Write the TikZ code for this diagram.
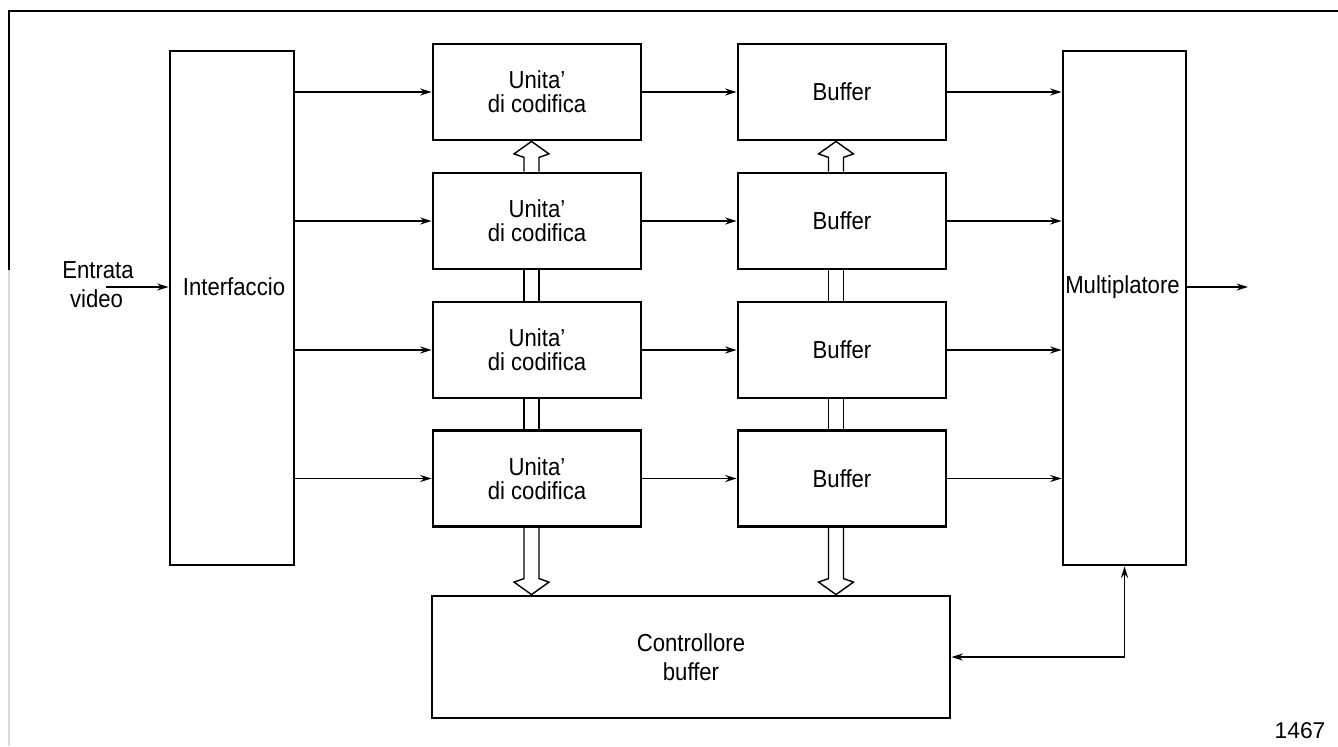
\documentclass[tikz,border=0pt]{standalone}
\usepackage{fontspec}
\setmainfont{Liberation Sans}[FakeStretch=0.9]
\newfontfamily\plainsans{Liberation Sans}
\usetikzlibrary{calc,arrows.meta}
\tikzset{
  blk/.style={draw,line width=1.6pt,minimum width=4.16cm,minimum height=1.92cm,
    inner sep=0pt,align=center,font=\fontsize{14}{13.8}\selectfont},
  lbl/.style={font=\fontsize{14}{15.3}\selectfont,align=center},
  conn/.style={line width=0.8pt,-{Stealth[length=6.5pt,width=4pt]}},
  bus/.style={line width=0.8pt,line join=miter}
}
% hollow bus arrow: #1 tail, #2 tip, #3 = 1 pointing down, -1 pointing up
\newcommand{\busarrow}[3]{%
  \draw[bus] ($#1+(-0.15,0)$) -- ($#2+(-0.15,#3*0.32)$) -- ($#2+(-0.35,#3*0.25)$) -- #2
    -- ($#2+(0.35,#3*0.25)$) -- ($#2+(0.15,#3*0.32)$) -- ($#1+(0.15,0)$);}
\newcommand{\busline}[2]{%
  \draw[bus] ($#1+(-0.15,0)$) -- ($#2+(-0.15,0)$) ($#1+(0.15,0)$) -- ($#2+(0.15,0)$);}
\begin{document}
\begin{tikzpicture}
\useasboundingbox (0,0) rectangle (26.76,-14.92);
% frame
\draw[line width=0.7pt] (26.76,-0.22) -- (0.18,-0.22) -- (0.18,-5.4);
\draw[line width=0.7pt,black!15] (0.18,-5.4) -- (0.18,-14.92);

\node[blk,minimum width=2.48cm,minimum height=10.28cm] (intf) at (4.64,-6.16) {};
\node[lbl] (intflbl) at (4.68,-5.74) {Interfaccio};
\node[blk,minimum width=2.46cm,minimum height=10.28cm] (mux) at (22.49,-6.16) {};
\node[lbl] (muxlbl) at (22.45,-5.74) {Multiplatore};
\node[blk,minimum width=10.36cm,minimum height=2.44cm] (ctrl) at (13.82,-13.14) {Controllore\\[3pt]buffer};

\foreach \i/\y in {1/-1.84,2/-4.42,3/-7.00,4/-9.57}{
  \node[blk] (cod\i) at (10.74,\y) {Unita'\\di codifica};
  \node[blk] (buf\i) at (16.84,\y) {Buffer};
  \draw[conn] (intf.east |- cod\i) -- (cod\i);
  \draw[conn] (cod\i) -- (buf\i);
  \draw[conn] (buf\i) -- (mux.west |- buf\i);
}

% input and output
\node[lbl,anchor=base] (inlbl) at (1.96,-5.56) {Entrata};
\node[lbl,anchor=base] (inlbl2) at (1.93,-6.14) {video};
\coordinate (vin) at (2.12,-5.74);
\draw[conn] (vin) -- (intf.west |- vin);
\coordinate (vout) at (24.96,-5.74);
\draw[conn] (mux.east |- vout) -- (vout);
\draw[conn,{Stealth[length=6.5pt,width=4pt]}-{Stealth[length=6.5pt,width=4pt]}] (ctrl.east) -| (mux.south);

% buses
\foreach \b/\dx in {cod/-0.11,buf/-0.12}{
  \coordinate (\b t1) at ($(\b1.south)+(\dx,0)$);
  \coordinate (\b b2) at ($(\b2.north)+(\dx,0)$);
  \coordinate (\b t2) at ($(\b2.south)+(\dx,0)$);
  \coordinate (\b b3) at ($(\b3.north)+(\dx,0)$);
  \coordinate (\b t3) at ($(\b3.south)+(\dx,0)$);
  \coordinate (\b b4) at ($(\b4.north)+(\dx,0)$);
  \coordinate (\b t4) at ($(\b4.south)+(\dx,0)$);
  \coordinate (\b c) at (\b t4 |- ctrl.north);
  \busarrow{(\b b2)}{(\b t1)}{-1}
  \busline{(\b t2)}{(\b b3)}
  \busline{(\b t3)}{(\b b4)}
  \busarrow{(\b t4)}{(\b c)}{1}
}

\node[font=\plainsans\fontsize{13}{14}\selectfont] (fig) at (26.0,-14.62) {1467};
\end{tikzpicture}
\end{document}
